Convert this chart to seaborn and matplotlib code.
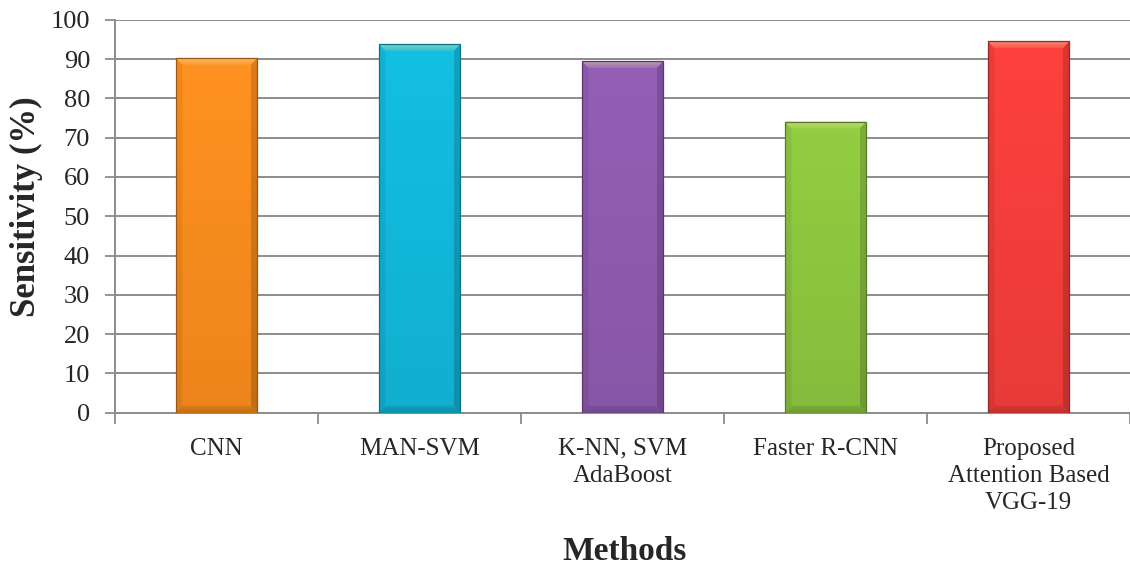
import numpy as np
import pandas as pd
import matplotlib
matplotlib.use("Agg")
import matplotlib.pyplot as plt
import matplotlib.colors as mcolors
from matplotlib.patches import Polygon
import seaborn as sns

# Data
methods = ["CNN", "MAN-SVM", "K-NN, SVM\nAdaBoost", "Faster R-CNN",
           "Proposed\nAttention Based\nVGG-19"]
sensitivity = [90.3, 93.8, 89.5, 74.1, 94.5]
bar_colors = ["#FA8C1E", "#12B8DA", "#8F5BB0", "#8DC63F", "#F43E3B"]
y_ticks = [0, 10, 20, 30, 40, 50, 60, 70, 80, 90, 100]

df = pd.DataFrame({"Method": methods, "Sensitivity": sensitivity})

sns.set_theme(style="white")
plt.rcParams["font.family"] = ["Liberation Serif", "DejaVu Serif"]

fig = plt.figure(figsize=(11.3, 5.65), dpi=100)
ax = fig.add_axes([0.1018, 0.2695, 0.8982, 0.6955])

sns.barplot(data=df, x="Method", y="Sensitivity", hue="Method",
            palette=bar_colors, width=0.4, legend=False, ax=ax,
            edgecolor="none", linewidth=0, zorder=3)


def gradient_poly(verts, c_top, c_bottom, y_lo, y_hi, z):
    """Fill a polygon with a vertical colour ramp."""
    poly = Polygon(verts, closed=True, facecolor="none", edgecolor="none",
                   zorder=z)
    ax.add_patch(poly)
    xs = [p[0] for p in verts]
    t = np.linspace(0, 1, 64)[:, None]
    ramp = np.array(c_bottom)[None, :] * (1 - t) + np.array(c_top)[None, :] * t
    img = np.repeat(ramp[:, None, :], 2, axis=1)
    im = ax.imshow(np.clip(img, 0, 1), extent=(min(xs), max(xs), y_lo, y_hi),
                   origin="lower", aspect="auto", zorder=z,
                   interpolation="bilinear")
    im.set_clip_path(poly)


def bevel_bar(patch, base):
    """Draw a bar as a bevelled block inside the patch geometry."""
    x0, y0 = patch.get_x(), patch.get_y()
    w, h = patch.get_width(), patch.get_height()
    x1, y1 = x0 + w, y0 + h
    rgb = np.array(mcolors.to_rgb(base))
    light = np.clip(rgb * 0.55 + np.array([1.0, 1.0, 0.7]) * 0.45, 0, 1)
    bx, by = 0.032, 1.8  # bevel size in data units

    # body
    gradient_poly([(x0, y0), (x1, y0), (x1, y1), (x0, y1)],
                  np.clip(rgb * 1.04, 0, 1), rgb * 0.95, y0, y1, 4)
    # side bevels
    gradient_poly([(x0, y0), (x0 + bx, y0 + by), (x0 + bx, y1 - by), (x0, y1)],
                  rgb * 0.97, rgb * 0.88, y0, y1, 5)
    gradient_poly([(x1, y0), (x1 - bx, y0 + by), (x1 - bx, y1 - by), (x1, y1)],
                  rgb * 0.88, rgb * 0.78, y0, y1, 5)
    # bottom bevel
    gradient_poly([(x0, y0), (x1, y0), (x1 - bx, y0 + by), (x0 + bx, y0 + by)],
                  rgb * 0.88, rgb * 0.78, y0, y0 + by, 5)
    # top bevel
    gradient_poly([(x0, y1), (x1, y1), (x1 - bx, y1 - by), (x0 + bx, y1 - by)],
                  light, np.clip(rgb * 0.7 + light * 0.3, 0, 1),
                  y1 - by, y1, 5)
    ax.add_patch(plt.Rectangle((x0, y0), w, h, fill=False,
                               edgecolor=tuple(rgb * 0.62), linewidth=0.9,
                               zorder=6))


for patch, col in zip(list(ax.patches), bar_colors):
    bevel_bar(patch, col)

ax.set_xlim(-0.5, 4.48)
ax.set_ylim(0, 100)
ax.set_yticks(y_ticks)
ax.set_yticklabels([str(t) for t in y_ticks], fontsize=19)
ax.yaxis.grid(True, color="#8C8C8C", linewidth=1.4, zorder=0)
ax.set_axisbelow(True)

# category labels, with boundary ticks along the bottom axis
ax.set_xticks(np.arange(len(methods)))
ax.set_xticklabels(methods, fontsize=18, linespacing=1.3)
ax.tick_params(axis="x", length=0, pad=18)
ax.set_xticks(np.arange(-0.5, len(methods), 1.0), minor=True)
ax.tick_params(axis="x", which="minor", length=8, width=1.3,
               color="#8C8C8C", direction="out", bottom=True)
ax.tick_params(axis="y", length=7, width=1.3, color="#8C8C8C",
               direction="out", left=True, pad=11)

for side in ["top", "right"]:
    ax.spines[side].set_visible(False)
for side in ["left", "bottom"]:
    ax.spines[side].set_color("#8C8C8C")
    ax.spines[side].set_linewidth(1.4)

ax.set_xlabel("")
ax.set_ylabel("Sensitivity (%)", fontsize=25, fontweight="bold")
ax.yaxis.set_label_coords(-0.071, 0.524)
fig.text(0.553, 0.024, "Methods", fontsize=24, fontweight="bold",
         ha="center", va="center")

fig.savefig("out.png", dpi=100)
